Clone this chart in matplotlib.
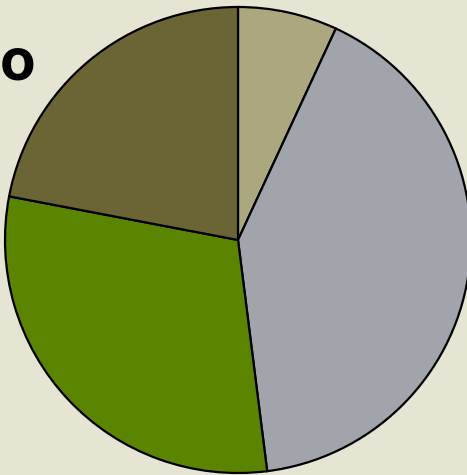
import matplotlib
matplotlib.use("Agg")
import matplotlib.pyplot as plt

labels = ["A", "B", "C", "D"]
values = [6.9, 41.1, 30.0, 22.0]
colors = ["#aba77f", "#a1a4ab", "#5b8500", "#6b6536"]
title_text = "o"

W, H = 467, 475
fig = plt.figure(figsize=(W / 100, H / 100), dpi=100)
fig.patch.set_facecolor("#e6e4d3")

cx, cy, r = 238, 240, 233
ax = fig.add_axes([(cx - r) / W, (H - cy - r) / H, 2 * r / W, 2 * r / H])
ax.set_facecolor("none")
ax.pie(values, colors=colors, startangle=90, counterclock=False, radius=1,
       wedgeprops=dict(edgecolor="black", linewidth=1.6))
ax.set_xlim(-1, 1)
ax.set_ylim(-1, 1)
ax.set_aspect("equal")
ax.axis("off")

fig.text(0 / W, 1 - 80 / H, title_text, fontsize=42, fontweight="bold",
         family=["Inter", "DejaVu Sans"],
         color="black", ha="left", va="baseline")

fig.savefig("out.png", dpi=100, facecolor=fig.get_facecolor())
